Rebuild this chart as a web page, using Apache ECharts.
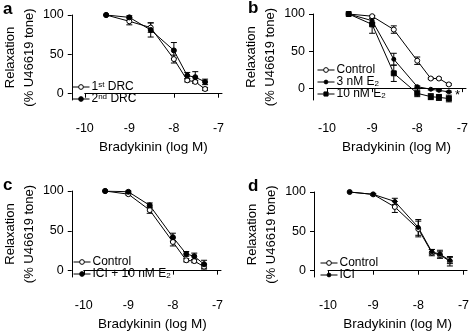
<!DOCTYPE html>
<html>
<head>
<meta charset="utf-8">
<script src="https://cdn.jsdelivr.net/npm/echarts@6/dist/echarts.min.js"></script>
<style>
  html, body { margin: 0; padding: 0; background: #fff; }
  #chart { width: 472px; height: 334px; }
</style>
</head>
<body>
<div id="chart"></div>
<script>
// bradykinin doses (log M), same for every panel
const doseLog = [-9.52, -9, -8.52, -8, -7.7, -7.52, -7.3];
const xTicks = [-10, -9, -8, -7];
const yTicks = [0, 50, 100];

// panel a
const aFirst = [100, 92, 84, 44, 17, 15, 6];
const aFirstErr = [0, 4.5, 6, 5, 2, 2, 2];
const aSecond = [100, 97, 81, 55, 23, 21, 15];
const aSecondErr = [0, 2, 9, 10, 4, 7, 3.5];

// panel b
const bControl = [100, 97, 79, 37, 13, 13, 5];
const bControlErr = [0, 1, 5, 5, 1, 1, 1];
const bE3 = [100, 91, 39, 2, -1.5, -3, -5];
const bE3Err = [0, 3, 8, 1, 1, 1, 1];
const bE10 = [100, 86, 20, -7, -11.5, -12.5, -14];
const bE10Err = [0, 12, 11, 4.5, 4, 4, 4.5];

// panel c
const cControl = [100, 96, 76, 36, 13, 12, 5];
const cControlErr = [0, 1, 4, 5, 2, 2, 3];
const cIci = [100, 99, 82, 42, 21, 18, 8];
const cIciErr = [0, 1, 3, 5, 3, 4, 5];

// panel d
const dControl = [100, 97, 81, 53, 23, 20, 12];
const dControlErr = [0, 1, 7, 10, 4, 4, 6];
const dIci = [100, 97, 88, 55, 24, 21, 13];
const dIciErr = [0, 1, 4, 10, 3, 5, 4];

const FONT = 'Liberation Sans, Arial, Helvetica, sans-serif';

const legendLabels = {
  'a1': '1{sup|st} DRC',
  'a2': '2{sup|nd} DRC',
  'b1': 'Control',
  'b2': '3 nM E{sub|2}',
  'b3': '10 nM E{sub|2}',
  'c1': 'Control',
  'c2': 'ICI + 10 nM E{sub|2}',
  'd1': 'Control',
  'd2': 'ICI'
};

// legend icons: short line with the marker in the middle
const iconCircle = 'path://M0,4L6.5,4M11.5,4L18,4M11.5,4A2.5,2.5,0,1,1,6.5,4A2.5,2.5,0,1,1,11.5,4Z';
const iconDot = 'path://M0,4L7,4M11,4L18,4M11,4A2,2,0,1,1,7,4A2,2,0,1,1,11,4Z';
const iconSquare = 'path://M0,4L6.8,4M11.2,4L18,4M6.8,1.8L11.2,1.8L11.2,6.2L6.8,6.2Z';

const panels = [
  { key: 'a', left: 81, top: 15, width: 141, height: 85, yMin: -8, yOff: 13 },
  { key: 'b', left: 327, top: 14, width: 139, height: 86, yMin: -16, yOff: 14 },
  { key: 'c', left: 80, top: 191, width: 141, height: 86, yMin: -8, yOff: 12 },
  { key: 'd', left: 328, top: 192, width: 141, height: 85, yMin: -8, yOff: 14 }
];

const open = { symbol: 'circle', size: 5, fill: '#fff' };
const dot = { symbol: 'circle', size: 5, fill: '#000' };
const smallDot = { symbol: 'circle', size: 4, fill: '#000' };
const square = { symbol: 'rect', size: 5, fill: '#000' };

function lineSeries(name, gi, values, mark) {
  return {
    name: name,
    type: 'line',
    xAxisIndex: gi,
    yAxisIndex: gi,
    data: doseLog.map((x, i) => [x, values[i]]),
    symbol: mark.symbol,
    symbolSize: mark.size,
    showAllSymbol: true,
    lineStyle: { color: '#000', width: 1 },
    itemStyle: { color: mark.fill, borderColor: '#000', borderWidth: 1 },
    z: 3
  };
}

function errSeries(gi, values, errs) {
  return {
    type: 'custom',
    xAxisIndex: gi,
    yAxisIndex: gi,
    z: 2,
    silent: true,
    data: doseLog.map((x, i) => [x, values[i], errs[i]]),
    renderItem: (params, api) => {
      const x = api.value(0), y = api.value(1), e = api.value(2);
      if (!e) return null;
      const top = api.coord([x, y + e]);
      const bot = api.coord([x, y - e]);
      const s = { stroke: '#000', lineWidth: 1 };
      return {
        type: 'group',
        children: [
          { type: 'line', shape: { x1: top[0], y1: top[1], x2: bot[0], y2: bot[1] }, style: s },
          { type: 'line', shape: { x1: top[0] - 3, y1: top[1], x2: top[0] + 3, y2: top[1] }, style: s },
          { type: 'line', shape: { x1: bot[0] - 3, y1: bot[1], x2: bot[0] + 3, y2: bot[1] }, style: s }
        ]
      };
    }
  };
}

const axisLine = { show: true, lineStyle: { color: '#000', width: 1 } };

const option = {
  animation: false,
  textStyle: { fontFamily: FONT, color: '#000' },
  grid: panels.map(p => ({ left: p.left, top: p.top, width: p.width, height: p.height })),
  xAxis: panels.map((p, i) => ({
    type: 'value',
    gridIndex: i,
    min: -10,
    max: -6.92,
    offset: 16,
    axisLine: axisLine,
    axisTick: { show: true, length: 4, customValues: xTicks, lineStyle: { color: '#000' } },
    axisLabel: { customValues: xTicks, color: '#000', fontSize: 12.5, fontFamily: FONT, margin: 6 },
    splitLine: { show: false },
    name: 'Bradykinin (log M)',
    nameLocation: 'middle',
    nameGap: 24,
    nameTextStyle: { color: '#000', fontSize: 13.5, fontFamily: FONT }
  })),
  yAxis: panels.map((p, i) => ({
    type: 'value',
    gridIndex: i,
    min: p.yMin,
    max: 100,
    offset: p.yOff,
    axisLine: axisLine,
    axisTick: { show: true, length: 4, customValues: yTicks, lineStyle: { color: '#000' } },
    axisLabel: { customValues: yTicks, color: '#000', fontSize: 12.5, fontFamily: FONT, margin: 8 },
    splitLine: { show: false },
    name: 'Relaxation\n(% U46619 tone)',
    nameLocation: 'middle',
    nameGap: 27,
    nameTextStyle: { color: '#000', fontSize: 13, lineHeight: 19, fontFamily: FONT }
  })),
  legend: [
    { data: [{ name: 'a1', icon: iconCircle }, { name: 'a2', icon: iconCircle }], left: 72, top: 81 },
    { data: [{ name: 'b1', icon: iconCircle }, { name: 'b2', icon: iconDot }, { name: 'b3', icon: iconSquare }], left: 317, top: 64 },
    { data: [{ name: 'c1', icon: iconCircle }, { name: 'c2', icon: iconCircle }], left: 73, top: 256 },
    { data: [{ name: 'd1', icon: iconCircle }, { name: 'd2', icon: iconDot }], left: 320, top: 257 }
  ].map(l => Object.assign({
    orient: 'vertical',
    itemWidth: 17,
    itemHeight: 6,
    itemGap: 0,
    padding: 0,
    selectedMode: false,
    itemStyle: { borderColor: '#000', borderWidth: 1 },
    formatter: name => legendLabels[name],
    textStyle: {
      color: '#000', fontSize: 12, fontFamily: FONT, lineHeight: 11.5, padding: [0, 0, 0, -3],
      rich: {
        sup: { fontSize: 8, verticalAlign: 'top', lineHeight: 11.5, fontFamily: FONT, color: '#000' },
        sub: { fontSize: 8, verticalAlign: 'bottom', lineHeight: 11.5, fontFamily: FONT, color: '#000' }
      }
    }
  }, l)),
  graphic: [
    { type: 'text', left: 3, top: 1, style: { text: 'a', font: 'bold 17px ' + FONT, fill: '#000' } },
    { type: 'text', left: 248, top: 0, style: { text: 'b', font: 'bold 17px ' + FONT, fill: '#000' } },
    { type: 'text', left: 3, top: 177, style: { text: 'c', font: 'bold 17px ' + FONT, fill: '#000' } },
    { type: 'text', left: 248, top: 178, style: { text: 'd', font: 'bold 17px ' + FONT, fill: '#000' } },
    { type: 'text', left: 455, top: 89, style: { text: '*', font: '13px ' + FONT, fill: '#000' } }
  ],
  series: [
    errSeries(0, aFirst, aFirstErr),
    errSeries(0, aSecond, aSecondErr),
    lineSeries('a1', 0, aFirst, open),
    lineSeries('a2', 0, aSecond, dot),

    errSeries(1, bControl, bControlErr),
    errSeries(1, bE3, bE3Err),
    errSeries(1, bE10, bE10Err),
    lineSeries('b1', 1, bControl, open),
    lineSeries('b2', 1, bE3, smallDot),
    lineSeries('b3', 1, bE10, square),

    errSeries(2, cControl, cControlErr),
    errSeries(2, cIci, cIciErr),
    lineSeries('c1', 2, cControl, open),
    lineSeries('c2', 2, cIci, dot),

    errSeries(3, dControl, dControlErr),
    errSeries(3, dIci, dIciErr),
    lineSeries('d1', 3, dControl, open),
    lineSeries('d2', 3, dIci, smallDot)
  ]
};

const chart = echarts.init(document.getElementById('chart'), null, { renderer: 'canvas' });
chart.setOption(option);
</script>
</body>
</html>
